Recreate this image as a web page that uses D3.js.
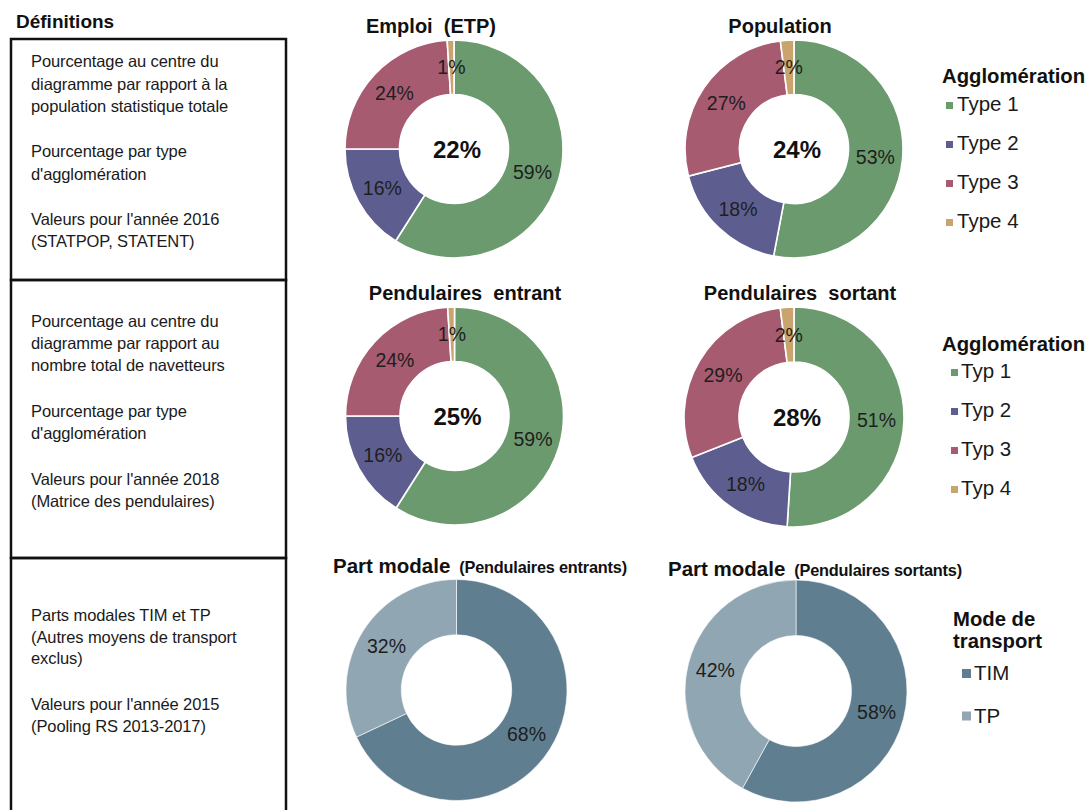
<!DOCTYPE html>
<html>
<head>
<meta charset="utf-8">
<script src="https://cdn.jsdelivr.net/npm/d3@7"></script>
<style>
  html, body { margin: 0; padding: 0; background: #fff; }
  svg { display: block; font-family: "Liberation Sans", Arial, sans-serif; }
</style>
</head>
<body>
<svg id="chart" width="1092" height="810"></svg>
<script>
// Agglomeration types (French / German legend wording)
const typeLabels = ["Type 1", "Type 2", "Type 3", "Type 4"];
const typLabels = ["Typ 1", "Typ 2", "Typ 3", "Typ 4"];
const typeColors = ["#6b9a6f", "#5d5e8f", "#a65b71", "#c9a46d"];

// Share per agglomeration type, 2016 / 2018
const emploiValues = [59, 16, 24, 1];
const populationValues = [53, 18, 27, 2];
const entrantValues = [59, 16, 24, 1];
const sortantValues = [51, 18, 29, 2];

// Share of the total shown in the centre of each ring
const centreShares = [22, 24, 25, 28];

// Modal split TIM / TP
const modeLabels = ["TIM", "TP"];
const modeColors = ["#5f7e90", "#90a6b3"];
const modalEntrants = [68, 32];
const modalSortants = [58, 42];

// Definition panels text
const defsTop = [
  ["Pourcentage au centre du", "diagramme par rapport à la", "population statistique totale"],
  ["Pourcentage par type", "d'agglomération"],
  ["Valeurs pour l'année 2016", "(STATPOP, STATENT)"]
];
const defsMid = [
  ["Pourcentage au centre du", "diagramme par rapport au", "nombre total de navetteurs"],
  ["Pourcentage par type", "d'agglomération"],
  ["Valeurs pour l'année 2018", "(Matrice des pendulaires)"]
];
const defsBottom = [
  ["Parts modales TIM et TP", "(Autres moyens de transport", "exclus)"],
  ["Valeurs pour l'année 2015", "(Pooling RS 2013-2017)"]
];

const svg = d3.select("#chart");

// ---- Definitions column ----
svg.append("text")
  .attr("x", 16).attr("y", 28)
  .attr("font-size", 19).attr("font-weight", "bold").attr("fill", "#111")
  .text("Définitions");

const boxes = [
  { y0: 39, y1: 280, paras: defsTop, first: 67, gap: 22.5, paraGap: 45 },
  { y0: 280, y1: 558, paras: defsMid, first: 327, gap: 22, paraGap: 46 },
  { y0: 558, y1: 830, paras: defsBottom, first: 621, gap: 21.5, paraGap: 46 }
];
boxes.forEach(b => {
  svg.append("rect")
    .attr("x", 11).attr("y", b.y0)
    .attr("width", 275).attr("height", b.y1 - b.y0)
    .attr("fill", "none").attr("stroke", "#111").attr("stroke-width", 2.5);
  let y = b.first;
  b.paras.forEach(lines => {
    lines.forEach((ln, li) => {
      svg.append("text")
        .attr("x", 31).attr("y", y + li * b.gap)
        .attr("font-size", 16.5).attr("fill", "#1a1a1a")
        .attr("letter-spacing", -0.1)
        .text(ln);
    });
    y += (lines.length - 1) * b.gap + b.paraGap;
  });
});

// ---- Donut drawing ----
const pie = d3.pie().sort(null).value(d => d);

function donut(opts) {
  const g = svg.append("g").attr("transform", `translate(${opts.cx},${opts.cy})`);
  const r = opts.r, ri = r * 0.5;
  const arc = d3.arc().innerRadius(ri).outerRadius(r);
  const labelArc = d3.arc().innerRadius((r + ri) / 2).outerRadius((r + ri) / 2);
  const arcs = pie(opts.values);
  g.selectAll("path").data(arcs).join("path")
    .attr("d", arc)
    .attr("fill", (d, i) => opts.colors[i])
    .attr("stroke", "#fff")
    .attr("stroke-width", opts.stroke);
  g.selectAll("text.lbl").data(arcs).join("text")
    .attr("class", "lbl")
    .attr("transform", d => `translate(${labelArc.centroid(d)})`)
    .attr("text-anchor", "middle").attr("dy", "0.36em")
    .attr("font-size", 19.5).attr("fill", "#1e1e1e")
    .text(d => d.data + "%");
  if (opts.centre != null) {
    g.append("text")
      .attr("x", 3).attr("y", 0).attr("dy", "0.36em")
      .attr("text-anchor", "middle")
      .attr("font-size", 24).attr("font-weight", "bold").attr("fill", "#111")
      .text(opts.centre + "%");
  }
}

donut({ cx: 454, cy: 149, r: 109, values: emploiValues, colors: typeColors, centre: centreShares[0], stroke: 1.6 });
donut({ cx: 794, cy: 149, r: 109, values: populationValues, colors: typeColors, centre: centreShares[1], stroke: 1.6 });
donut({ cx: 454.5, cy: 416, r: 109, values: entrantValues, colors: typeColors, centre: centreShares[2], stroke: 1.6 });
donut({ cx: 794, cy: 417, r: 110, values: sortantValues, colors: typeColors, centre: centreShares[3], stroke: 1.6 });
donut({ cx: 456.5, cy: 690, r: 110.5, values: modalEntrants, colors: modeColors, centre: null, stroke: 0.6 });
donut({ cx: 796, cy: 691, r: 111, values: modalSortants, colors: modeColors, centre: null, stroke: 0.6 });

// ---- Titles ----
function title(x, y, txt) {
  svg.append("text")
    .attr("x", x).attr("y", y)
    .attr("text-anchor", "middle")
    .attr("font-size", 20).attr("font-weight", "bold").attr("fill", "#111")
    .style("white-space", "pre")
    .text(txt);
}
title(431, 33, "Emploi  (ETP)");
title(780, 33, "Population");
title(465, 300, "Pendulaires  entrant");
title(800, 300, "Pendulaires  sortant");

function modalTitle(x, y, sub) {
  const t = svg.append("text").attr("x", x).attr("y", y).attr("fill", "#111");
  t.append("tspan").attr("font-size", 20.5).attr("font-weight", "bold").text("Part modale");
  t.append("tspan").attr("dx", 9).attr("font-size", 16.3).attr("font-weight", "bold")
    .attr("letter-spacing", -0.2).text(sub);
}
modalTitle(333, 573, "(Pendulaires entrants)");
modalTitle(668, 576, "(Pendulaires sortants)");

// ---- Legends ----
function legend(opts) {
  const g = svg.append("g");
  opts.header.forEach((h, i) => {
    g.append("text")
      .attr("x", opts.hx).attr("y", opts.hy + i * 22)
      .attr("font-size", 20.3).attr("font-weight", "bold").attr("fill", "#111")
      .text(h);
  });
  opts.labels.forEach((lab, i) => {
    const y = opts.y0 + i * opts.step;
    g.append("rect")
      .attr("x", opts.mx).attr("y", y - opts.ms - 2)
      .attr("width", opts.ms).attr("height", opts.ms)
      .attr("fill", opts.colors[i]);
    g.append("text")
      .attr("x", opts.tx).attr("y", y)
      .attr("font-size", 20.5).attr("fill", "#1a1a1a")
      .text(lab);
  });
}
legend({ header: ["Agglomération"], hx: 942, hy: 83, labels: typeLabels, colors: typeColors,
         y0: 111, step: 39, mx: 946, ms: 7, tx: 957 });
legend({ header: ["Agglomération"], hx: 942, hy: 351, labels: typLabels, colors: typeColors,
         y0: 378, step: 39, mx: 951, ms: 7, tx: 961 });
legend({ header: ["Mode de", "transport"], hx: 953, hy: 626, labels: modeLabels, colors: modeColors,
         y0: 680, step: 42.5, mx: 962, ms: 9, tx: 974 });
</script>
</body>
</html>
